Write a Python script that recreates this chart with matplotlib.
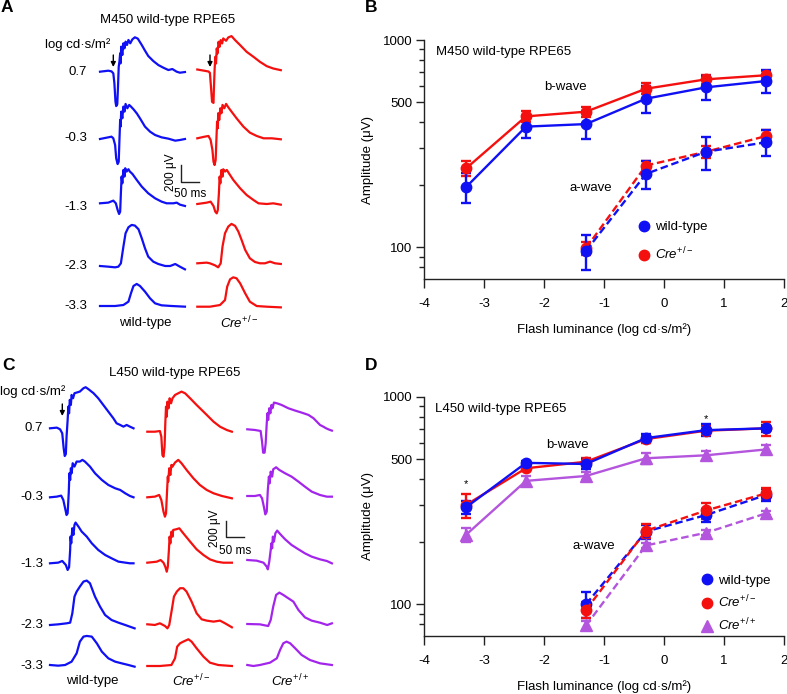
import matplotlib
matplotlib.use("Agg")
import matplotlib.pyplot as plt
from matplotlib.lines import Line2D
from matplotlib.ticker import FixedLocator, NullFormatter

plt.rcParams['font.family'] = ['Liberation Sans', 'DejaVu Sans']
plt.rcParams['font.size'] = 9.5
plt.rcParams['axes.unicode_minus'] = False
plt.rcParams['mathtext.fontset'] = 'custom'
plt.rcParams['mathtext.rm'] = 'Liberation Sans'
plt.rcParams['mathtext.it'] = 'Liberation Sans:italic'

# ---------------- data: intensity-response (panels B, D) ----------------
LUM = [-3.3, -2.3, -1.3, -0.3, 0.7, 1.7]
LUM_A = [-1.3, -0.3, 0.7, 1.7]

B_BWAVE_WT = [195, 382, 393, 521, 591, 634]
B_BWAVE_WT_ERR = [32, 45, 60, 78, 80, 82]
B_BWAVE_CRE = [240, 428, 451, 582, 646, 676]
B_BWAVE_CRE_ERR = [20, 24, 25, 35, 30, 35]
B_AWAVE_WT = [96, 226, 289, 321]
B_AWAVE_WT_ERR = [18, 36, 52, 45]
B_AWAVE_CRE = [99, 248, 289, 344]
B_AWAVE_CRE_ERR = [7, 13, 20, 22]

D_BWAVE_WT = [293, 480, 474, 632, 690, 704]
D_BWAVE_WT_ERR = [20, 10, 25, 30, 45, 30]
D_BWAVE_HET = [301, 452, 486, 625, 686, 704]
D_BWAVE_HET_ERR = [40, 15, 20, 25, 35, 55]
D_BWAVE_HOM = [216, 393, 415, 505, 522, 557]
D_BWAVE_HOM_ERR = [16, 20, 18, 32, 25, 25]
D_AWAVE_WT = [100, 224, 269, 336]
D_AWAVE_WT_ERR = [14, 18, 20, 22]
D_AWAVE_HET = [94, 226, 283, 342]
D_AWAVE_HET_ERR = [8, 18, 25, 22]
D_AWAVE_HOM = [79, 192, 221, 274]
D_AWAVE_HOM_ERR = [4, 6, 6, 6]

STAR_LUM = [-3.3, 0.7]
STAR_AMP = [380, 780]

ROW_LABELS = ['0.7', '-0.3', '-1.3', '-2.3', '-3.3']

# ---------------- data: ERG traces (time ms, amplitude uV) ----------------
A_WT_07 = [(0,0),(23,12),(32,4),(37,-20),(40,-140),(43,-360),(45,-412),(48,-388),(50,-180),
           (52,60),(54,120),(56,220),(57,100),(59,300),(62,200),(65,340),(68,280),(71,360),
           (75,320),(79,380),(84,340),(90,388),(97,412),(105,396),(116,320),(125,252),(134,188),
           (148,128),(162,80),(176,48),(190,20),(201,32),(213,0),(222,-12),(236,-4)]
A_WT_m03 = [(0,0),(23,20),(32,28),(37,8),(42,-72),(45,-232),(49,-300),(52,-272),(54,-12),
            (56,228),(57,148),(59,328),(62,248),(65,388),(68,328),(71,420),(76,368),(81,408),
            (86,388),(93,356),(102,308),(111,248),(125,148),(139,88),(153,48),(171,20),(190,4),
            (209,-20),(222,-12),(236,0)]
A_WT_m13 = [(0,0),(23,8),(37,32),(44,0),(49,-80),(53,-128),(56,-100),(58,120),(60,320),
            (62,240),(65,400),(68,320),(70,420),(74,380),(79,408),(83,380),(90,352),(102,280),
            (116,200),(134,120),(153,60),(171,20),(185,0),(204,0),(213,8),(222,-16),(236,-32)]
A_WT_m23 = [(0,0),(23,-8),(42,-16),(51,-8),(58,32),(65,232),(71,392),(79,464),(88,492),
            (97,484),(107,440),(116,332),(125,212),(134,112),(148,52),(162,24),(181,0),(195,0),
            (209,24),(222,-8),(236,-40)]
A_WT_m33 = [(0,0),(42,0),(65,12),(79,52),(86,152),(93,240),(102,264),(111,240),(125,172),
            (139,92),(153,32),(171,8),(199,0),(236,-8)]

A_CRE_07 = [(0,0),(21,-16),(31,-24),(35,-40),(38,-208),(41,-388),(45,-400),(46,-248),(48,-8),
            (50,152),(52,72),(54,252),(56,192),(59,332),(62,272),(65,352),(69,312),(72,372),
            (80,344),(86,384),(95,400),(105,352),(119,292),(137,212),(156,152),(174,92),(193,40),
            (211,12),(232,-8)]
A_CRE_m03 = [(0,0),(21,20),(31,28),(37,-20),(42,-140),(45,-280),(48,-320),(51,-260),(53,-20),
             (55,200),(57,120),(58,300),(61,220),(64,360),(67,300),(70,400),(75,360),(80,412),
             (86,372),(95,320),(109,240),(128,140),(146,68),(165,28),(184,0),(207,0),(232,-12)]
A_CRE_m13 = [(0,0),(26,16),(37,28),(45,-24),(50,-92),(54,-112),(57,-72),(60,128),(62,328),
             (64,248),(67,408),(70,328),(72,416),(77,388),(82,408),(89,360),(100,288),(119,188),
             (137,108),(156,48),(170,8),(193,0),(211,8),(232,-8)]
A_CRE_m23 = [(0,0),(26,8),(35,0),(49,-24),(58,-48),(65,0),(70,200),(77,360),(86,440),(95,472),
             (105,448),(114,380),(123,280),(133,160),(146,60),(160,16),(174,0),(188,0),(202,20),
             (216,0),(232,-8)]
A_CRE_m33 = [(0,0),(35,0),(63,20),(77,80),(83,240),(91,328),(100,352),(109,340),(119,280),
             (133,160),(146,60),(165,8),(193,0),(232,-8)]

C_WT_07 = [(0,0),(19,8),(28,-12),(34,-60),(38,-240),(41,-332),(44,-308),(46,-100),(49,100),
           (51,260),(53,180),(55,340),(58,280),(60,400),(64,360),(68,420),(74,428),(83,440),
           (93,480),(99,492),(107,468),(121,420),(134,360),(148,280),(162,200),(176,120),
           (185,60),(195,40),(204,20),(213,40),(222,20),(232,0)]
C_WT_m03 = [(0,0),(19,8),(31,20),(37,-32),(42,-132),(46,-212),(49,-192),(52,48),(54,288),
            (56,208),(58,348),(60,288),(63,408),(68,368),(74,428),(83,428),(90,448),(97,428),
            (111,368),(125,288),(144,208),(162,148),(181,108),(195,88),(209,48),(222,16),(232,0)]
C_WT_m13 = [(0,0),(23,8),(34,28),(44,-20),(49,-80),(53,-48),(56,160),(57,320),(59,240),
            (62,420),(65,340),(68,460),(71,488),(79,440),(88,380),(102,320),(116,240),(134,160),
            (153,100),(171,60),(190,20),(209,8),(222,0),(232,0)]
C_WT_m23 = [(0,0),(23,8),(46,20),(56,28),(62,140),(68,340),(74,400),(83,460),(93,520),
            (102,532),(111,500),(125,340),(139,220),(153,120),(171,60),(190,28),(209,0),
            (222,-20),(235,-40)]
C_WT_m33 = [(0,0),(23,-8),(42,0),(60,40),(74,140),(83,280),(93,340),(102,348),(116,340),
            (130,260),(144,160),(162,80),(181,40),(199,20),(218,0),(235,-20)]

C_HET_07 = [(0,0),(21,0),(35,8),(39,-60),(42,-280),(45,-300),(48,-180),(50,100),(52,300),
            (54,180),(56,360),(59,280),(62,400),(66,340),(70,400),(77,440),(86,460),(95,480),
            (105,460),(119,400),(137,320),(156,240),(170,180),(184,120),(202,60),(221,20),(235,0)]
C_HET_m03 = [(0,0),(21,8),(33,28),(39,-32),(45,-172),(49,-232),(52,-192),(55,88),(57,248),
             (58,188),(61,348),(64,268),(67,388),(70,368),(77,416),(86,448),(95,408),(109,328),
             (128,228),(146,148),(165,88),(184,48),(207,16),(235,-12)]
C_HET_m13 = [(0,0),(26,12),(37,32),(45,0),(50,-48),(54,-108),(57,-48),(60,152),(62,312),
             (64,232),(67,372),(70,312),(72,392),(80,400),(89,412),(100,352),(119,252),(137,160),
             (156,92),(174,40),(193,12),(211,0),(235,0)]
C_HET_m23 = [(0,0),(21,-8),(35,12),(49,-20),(56,-48),(61,-8),(68,172),(74,332),(82,392),
             (91,432),(100,432),(109,392),(123,272),(137,132),(151,60),(165,44),(184,32),
             (202,44),(216,12),(235,-36)]
C_HET_m33 = [(0,0),(35,0),(67,12),(77,92),(83,232),(91,272),(100,292),(114,320),(123,292),
             (137,212),(156,112),(174,40),(197,12),(235,0)]

C_HOM_07 = [(0,0),(21,-8),(37,-20),(41,-148),(44,-280),(48,-280),(51,-168),(54,72),(56,192),
            (58,112),(61,252),(64,192),(67,292),(70,252),(74,320),(82,312),(95,292),(114,252),
            (133,224),(151,200),(170,172),(184,132),(202,52),(211,32),(219,12),(225,0),(235,-16)]
C_HOM_m03 = [(0,0),(21,0),(35,12),(41,-28),(46,-128),(50,-220),(54,-188),(57,72),(60,232),
             (62,152),(65,292),(69,232),(72,320),(80,344),(89,312),(105,272),(123,232),(142,172),
             (160,112),(179,52),(202,12),(221,-8),(235,-8)]
C_HOM_m13 = [(0,0),(26,-8),(45,-32),(54,-80),(57,-112),(61,-20),(65,120),(67,200),(69,140),
             (71,280),(74,220),(78,320),(83,352),(91,312),(105,248),(123,180),(142,128),(160,80),
             (179,40),(202,8),(221,-12),(235,-40)]
C_HOM_m23 = [(0,0),(35,-4),(58,-24),(65,48),(72,208),(80,348),(89,376),(100,348),(114,308),
             (128,268),(142,168),(160,80),(179,40),(202,16),(222,-12),(235,8)]
C_HOM_m33 = [(0,0),(17,-12),(35,0),(63,28),(82,80),(91,180),(100,260),(109,280),(119,260),
             (133,200),(151,120),(174,60),(202,20),(235,0)]

# ---------------- layout (pixel positions in the 787x694 canvas) ----------------
W, H = 787, 694
MS_PER_PX = 50 / 18.0
UV_PER_PX = 200 / 16.7

BLUE = '#1010F5'
RED = '#F51010'
PURPLE_TR = '#A325EC'
PURPLE_PL = '#B455DD'
AXC = '#222222'

fig = plt.figure(figsize=(W / 100, H / 100), dpi=100)


def fx(px):
    return px / W


def fy(py):
    return 1 - py / H


# trace axes covering left part; data units ms / uV
TW = 345
axT = fig.add_axes([0, 0, TW / W, 1])
axT.set_xlim(0, TW * MS_PER_PX)
axT.set_ylim(-H * UV_PER_PX, 0)
axT.axis('off')


def draw_trace(trace, col_px, base_px, color):
    t = [p[0] + col_px * MS_PER_PX for p in trace]
    v = [p[1] - base_px * UV_PER_PX for p in trace]
    axT.plot(t, v, color=color, lw=1.6, clip_on=False, solid_joinstyle='round')


def P(xp, yp):
    return xp * MS_PER_PX, -yp * UV_PER_PX


# Panel A traces
A_WT = [A_WT_07, A_WT_m03, A_WT_m13, A_WT_m23, A_WT_m33]
A_CRE = [A_CRE_07, A_CRE_m03, A_CRE_m13, A_CRE_m23, A_CRE_m33]
A_WT_BASE = [71.7, 139, 203.3, 266, 306]
A_CRE_BASE = [69.5, 138.3, 204, 263.3, 306.7]
for tr, b in zip(A_WT, A_WT_BASE):
    draw_trace(tr, 100, b, BLUE)
for tr, b in zip(A_CRE, A_CRE_BASE):
    draw_trace(tr, 197.3, b, RED)

# Panel C traces
C_WT = [C_WT_07, C_WT_m03, C_WT_m13, C_WT_m23, C_WT_m33]
C_HET = [C_HET_07, C_HET_m03, C_HET_m13, C_HET_m23, C_HET_m33]
C_HOM = [C_HOM_07, C_HOM_m03, C_HOM_m13, C_HOM_m23, C_HOM_m33]
C_WT_BASE = [428.3, 497.3, 563.3, 625, 665]
C_HET_BASE = [431.7, 497.3, 562.7, 624.3, 666]
C_HOM_BASE = [429.3, 496, 560, 624, 665]
for tr, b in zip(C_WT, C_WT_BASE):
    draw_trace(tr, 50, b, BLUE)
for tr, b in zip(C_HET, C_HET_BASE):
    draw_trace(tr, 147.3, b, RED)
for tr, b in zip(C_HOM, C_HOM_BASE):
    draw_trace(tr, 247.3, b, PURPLE_TR)


def scale_bar(cx, cy, vtxt_xy, htxt_xy):
    x0, y0 = P(cx, cy)
    axT.plot([x0, x0, x0 + 50], [y0 + 200, y0, y0], color=AXC, lw=1.0, clip_on=False)
    fig.text(fx(vtxt_xy[0]), fy(vtxt_xy[1]), '200 μV', rotation=90, ha='center', va='center', fontsize=8.5)
    fig.text(fx(htxt_xy[0]), fy(htxt_xy[1]), '50 ms', ha='center', va='center', fontsize=8.5)


scale_bar(181, 181.7, (170.7, 172.5), (190.5, 194.3))
scale_bar(226, 537.3, (215, 528), (235, 550.7))


def arrow(xp, y1, y2):
    axT.annotate('', xy=P(xp, y2), xytext=P(xp, y1),
                 arrowprops=dict(arrowstyle='-|>', lw=1.0, color='black', mutation_scale=7,
                                 shrinkA=0, shrinkB=0))


arrow(113.3, 55, 67)
arrow(210, 55, 67)
arrow(62.3, 404, 416)

# texts in trace panels
fig.text(fx(168), fy(20), 'M450 wild-type RPE65', ha='center', va='center')
fig.text(fx(110), fy(45), 'log cd·s/m²', ha='right', va='center')
for lab, yp in zip(ROW_LABELS, [71.7, 138.3, 206.7, 266, 306]):
    fig.text(fx(87), fy(yp), lab, ha='right', va='center')
fig.text(fx(145), fy(323), 'wild-type', ha='center', va='center')
fig.text(fx(239), fy(323), r'$\mathit{Cre}^{+/-}$', ha='center', va='center')

fig.text(fx(175), fy(373.3), 'L450 wild-type RPE65', ha='center', va='center')
fig.text(fx(0.5), fy(391.7), 'log cd·s/m²', ha='left', va='center')
for lab, yp in zip(ROW_LABELS, [428.3, 497.3, 564, 625, 666]):
    fig.text(fx(43), fy(yp), lab, ha='right', va='center')
fig.text(fx(92), fy(680.7), 'wild-type', ha='center', va='center')
fig.text(fx(191), fy(680.7), r'$\mathit{Cre}^{+/-}$', ha='center', va='center')
fig.text(fx(290), fy(680.7), r'$\mathit{Cre}^{+/+}$', ha='center', va='center')

# panel letters
for letter, xp, yp in [('A', 1, 8), ('B', 365, 7), ('C', 2, 366), ('D', 365, 366)]:
    fig.text(fx(xp), fy(yp), letter, ha='left', va='center', fontsize=12.5, fontweight='bold')


# ---------------- intensity-response axes ----------------
def make_axes(top_px, bottom_px):
    ax = fig.add_axes([fx(424), fy(bottom_px), (784 - 424) / W, (bottom_px - top_px) / H])
    ax.set_yscale('log')
    ax.set_xlim(-4, 2)
    ax.set_ylim(70.3, 1000)
    for s in ['top', 'right']:
        ax.spines[s].set_visible(False)
    for s in ['left', 'bottom']:
        ax.spines[s].set_linewidth(1.0)
        ax.spines[s].set_color(AXC)
    ax.yaxis.set_major_locator(FixedLocator([100, 500, 1000]))
    ax.yaxis.set_minor_locator(FixedLocator([80, 90, 200, 300, 400, 600, 700, 800, 900]))
    ax.yaxis.set_minor_formatter(NullFormatter())
    ax.set_yticklabels(['100', '500', '1000'])
    ax.set_xticks([-4, -3, -2, -1, 0, 1, 2])
    ax.set_xticklabels(['-4', '-3', '-2', '-1', '0', '1', '2'])
    ax.tick_params(axis='y', which='major', length=6, width=1.0, color=AXC, pad=2.5, labelsize=9.5)
    ax.tick_params(axis='y', which='minor', length=3.5, width=1.0, color=AXC)
    ax.tick_params(axis='x', which='major', length=6.5, width=1.0, color=AXC, pad=7, labelsize=9.5)
    ax.tick_params(axis='x', which='minor', length=0)
    return ax


def series(ax, x, y, e, color, marker, dashed, ms=7.5):
    eb = ax.errorbar(x, y, yerr=e, color=color, marker=marker, ms=ms, lw=1.7,
                     elinewidth=1.7, capsize=3.4, capthick=1.7, clip_on=False)
    if dashed:
        eb.lines[0].set_linestyle((0, (3.2, 1.6)))
    for c in eb.lines[1]:
        c.set_clip_on(False)
    for c in eb.lines[2]:
        c.set_clip_on(False)
    return eb


axB = make_axes(40, 279)
series(axB, LUM, B_BWAVE_CRE, B_BWAVE_CRE_ERR, RED, 'o', False)
series(axB, LUM, B_BWAVE_WT, B_BWAVE_WT_ERR, BLUE, 'o', False)
series(axB, LUM_A, B_AWAVE_CRE, B_AWAVE_CRE_ERR, RED, 'o', True)
series(axB, LUM_A, B_AWAVE_WT, B_AWAVE_WT_ERR, BLUE, 'o', True)

axD = make_axes(396.7, 636)
series(axD, LUM, D_BWAVE_HOM, D_BWAVE_HOM_ERR, PURPLE_PL, '^', False, ms=8)
series(axD, LUM, D_BWAVE_HET, D_BWAVE_HET_ERR, RED, 'o', False)
series(axD, LUM, D_BWAVE_WT, D_BWAVE_WT_ERR, BLUE, 'o', False)
series(axD, LUM_A, D_AWAVE_HOM, D_AWAVE_HOM_ERR, PURPLE_PL, '^', True, ms=8)
series(axD, LUM_A, D_AWAVE_WT, D_AWAVE_WT_ERR, BLUE, 'o', True)
series(axD, LUM_A, D_AWAVE_HET, D_AWAVE_HET_ERR, RED, 'o', True)
for xs, ys in zip(STAR_LUM, STAR_AMP):
    axD.text(xs, ys, '*', ha='center', va='center', fontsize=8)

# axis labels and in-plot texts
for top, bot in [(40, 279), (396.7, 636)]:
    mid = (top + bot) / 2
    fig.text(fx(368.3), fy(mid), 'Amplitude (μV)', rotation=90, ha='center', va='center')
    fig.text(fx(604.3), fy(bot + 50.5), 'Flash luminance (log cd·s/m²)', ha='center', va='center')

fig.text(fx(436), fy(51.7), 'M450 wild-type RPE65', ha='left', va='center')
fig.text(fx(565), fy(87.3), 'b-wave', ha='center', va='center')
fig.text(fx(591.3), fy(188.3), 'a-wave', ha='center', va='center')
fig.text(fx(435), fy(409.3), 'L450 wild-type RPE65', ha='left', va='center')
fig.text(fx(567.5), fy(445.3), 'b-wave', ha='center', va='center')
fig.text(fx(594.3), fy(545.7), 'a-wave', ha='center', va='center')


def legend(ax, entries, anchor, spacing):
    handles = [Line2D([], [], color=c, marker=m, ls='none', ms=ms) for c, m, ms, _ in entries]
    labels = [lab for _, _, _, lab in entries]
    ax.legend(handles, labels, loc='upper left', bbox_to_anchor=anchor, frameon=False,
              handlelength=1.0, handletextpad=0.35, labelspacing=spacing, borderpad=0,
              borderaxespad=0, fontsize=9.5)


def ax_frac(px, py, top, bot):
    return ((px - 424) / 360, (bot - py) / (bot - top))


legend(axB, [(BLUE, 'o', 7.5, 'wild-type'), (RED, 'o', 7.5, r'$\mathit{Cre}^{+/-}$')],
       ax_frac(637.4, 221, 40, 279), 0.95)
legend(axD, [(BLUE, 'o', 7.5, 'wild-type'), (RED, 'o', 7.5, r'$\mathit{Cre}^{+/-}$'),
             (PURPLE_PL, '^', 8, r'$\mathit{Cre}^{+/+}$')],
       ax_frac(700.4, 574.5, 396.7, 636), 0.52)

fig.savefig('out.png', dpi=100)
